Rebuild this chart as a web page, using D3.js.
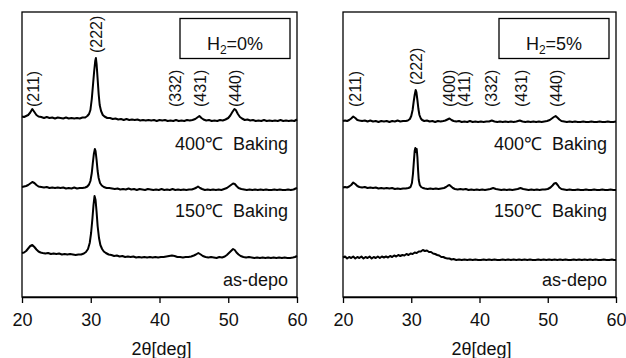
<!DOCTYPE html>
<html>
<head>
<meta charset="utf-8">
<script src="https://cdn.jsdelivr.net/npm/d3@7"></script>
<style>
  html, body { margin: 0; padding: 0; background: #fff; }
  svg { display: block; font-family: "Liberation Sans", Arial, sans-serif; }
  text { white-space: pre; }
</style>
</head>
<body>
<script>
// XRD patterns, intensity in arbitrary units, [2theta, I]
const left400 = [[20.0,4.5],[20.3,4],[20.6,5],[20.9,6],[21.2,8.5],[21.5,12],[21.8,9],[22.1,6],[22.4,4.5],[22.8,4],[23.2,3],[23.6,4],[24.0,3],[24.4,3.5],[24.8,2.5],[25.2,3.5],[25.6,3],[26.0,2.5],[26.4,3.5],[26.8,2.5],[27.2,3],[27.6,2.5],[28.0,3],[28.4,2.5],[28.8,3.5],[29.2,3.5],[29.5,5],[29.75,7],[29.95,11],[30.15,22],[30.35,38],[30.5,50],[30.65,60],[30.75,63],[30.85,57],[31.0,42],[31.15,27],[31.3,16],[31.5,10],[31.75,6],[32.0,4.5],[32.4,3],[32.8,3],[33.2,2],[33.6,2.5],[34.0,1.5],[34.4,2],[34.8,1],[35.2,2],[35.6,1],[36.0,1.5],[36.4,1],[36.8,1.5],[37.2,0.5],[37.6,1],[38.0,0.5],[38.4,1],[38.8,0.5],[39.2,1],[39.6,0],[40.0,1],[40.4,0.5],[40.8,1],[41.2,0],[41.6,0.5],[42.0,0],[42.4,1],[42.8,0],[43.2,0.5],[43.6,0],[44.0,1],[44.4,0.5],[44.8,1],[45.2,2],[45.5,3.5],[45.8,5],[46.1,3],[46.4,1.5],[46.8,0.5],[47.2,1],[47.6,0],[48.0,0.5],[48.4,0],[48.8,1],[49.2,0.5],[49.6,1.5],[50.0,3],[50.3,5.5],[50.6,9],[50.9,12],[51.1,11],[51.4,7],[51.7,4],[52.0,2.5],[52.4,1],[52.8,1.5],[53.2,0.5],[53.6,1],[54.0,0],[54.4,0.5],[54.8,0],[55.2,1],[55.6,0],[56.0,0.5],[56.4,0],[56.8,0.5],[57.2,0],[57.6,1],[58.0,0],[58.4,0.5],[58.8,0],[59.2,0.5],[59.6,0],[60.0,1.5]];
const left150 = [[20.0,3],[20.3,3.5],[20.6,4],[20.9,5],[21.2,6.5],[21.5,8],[21.8,7],[22.1,5],[22.4,3.5],[22.8,3],[23.2,2.5],[23.6,3],[24.0,2],[24.4,2.5],[24.8,2],[25.2,2.5],[25.6,2],[26.0,2.5],[26.4,1.5],[26.8,2],[27.2,1.5],[27.6,2.5],[28.0,1.5],[28.4,2],[28.8,2],[29.2,2.5],[29.5,3.5],[29.75,5.5],[29.95,9],[30.15,17],[30.3,27],[30.45,36],[30.6,41],[30.7,39],[30.85,30],[31.0,19],[31.15,12],[31.35,7],[31.6,4.5],[31.9,3],[32.3,2],[32.7,2],[33.1,1.5],[33.5,1],[33.9,1.5],[34.3,0.5],[34.7,1],[35.1,0.5],[35.5,1.5],[35.9,0.5],[36.3,1],[36.7,0],[37.1,1],[37.5,0.5],[37.9,0],[38.3,1],[38.7,0.5],[39.1,0],[39.5,0.5],[39.9,0],[40.3,1],[40.7,0],[41.1,0.5],[41.5,0],[41.9,1],[42.3,0],[42.7,0.5],[43.1,0],[43.5,0.5],[43.9,0],[44.3,0.5],[44.7,0.5],[45.1,1.5],[45.4,2.5],[45.6,3.5],[45.9,2],[46.2,1],[46.6,0],[47.0,0.5],[47.4,0],[47.8,0.5],[48.2,0],[48.6,0.5],[49.0,0],[49.4,1],[49.8,2],[50.1,3.5],[50.4,5],[50.7,6.5],[50.95,6],[51.2,4],[51.5,2],[51.9,1],[52.3,0.5],[52.7,0],[53.1,0.5],[53.5,0],[53.9,0.5],[54.3,0],[54.7,0.5],[55.1,0],[55.5,0.5],[55.9,0],[56.3,0],[56.7,0.5],[57.1,0],[57.5,0.5],[57.9,0],[58.3,0],[58.7,0.5],[59.1,0],[59.5,0.5],[59.8,1.5],[60.0,2]];
const leftDepo = [[20.0,5],[20.3,5.5],[20.6,7],[20.9,9.5],[21.2,12],[21.5,13],[21.8,11],[22.1,8.5],[22.4,6.5],[22.7,5.5],[23.0,5],[23.4,4.5],[23.8,5],[24.2,4],[24.6,4.5],[25.0,4],[25.4,4.5],[25.8,3.5],[26.2,4],[26.6,3.5],[27.0,4],[27.4,3.5],[27.8,3],[28.2,3.5],[28.6,3.5],[29.0,4.5],[29.3,6],[29.6,9],[29.85,15],[30.05,25],[30.25,40],[30.4,53],[30.55,62],[30.7,58],[30.85,46],[31.0,32],[31.2,20],[31.4,13],[31.65,9],[31.9,6.5],[32.2,5],[32.6,3.5],[33.0,3],[33.4,2],[33.8,2.5],[34.2,1.5],[34.6,2],[35.0,1],[35.4,1.5],[35.8,1],[36.2,1.5],[36.6,0.5],[37.0,1],[37.4,0.5],[37.8,1],[38.2,0.5],[38.6,1],[39.0,0.5],[39.4,1],[39.8,0.5],[40.2,1],[40.6,1],[41.0,1.5],[41.4,2],[41.8,2.5],[42.2,2],[42.6,1],[43.0,1],[43.4,0.5],[43.8,1],[44.2,1],[44.6,1.5],[45.0,2.5],[45.3,3.5],[45.65,5],[46.0,3.5],[46.3,2],[46.7,1],[47.1,0.5],[47.5,1],[47.9,0.5],[48.3,0],[48.7,1],[49.1,0.5],[49.5,1.5],[49.8,3],[50.1,5],[50.4,7],[50.7,9],[50.95,8],[51.2,5.5],[51.5,3.5],[51.8,2],[52.2,1],[52.6,0.5],[53.0,1],[53.4,0.5],[53.8,0],[54.2,0.5],[54.6,0],[55.0,0.5],[55.4,0],[55.8,0.5],[56.2,0],[56.6,0.5],[57.0,0],[57.4,0.5],[57.8,0],[58.2,0.5],[58.6,0],[59.0,0],[59.4,0.5],[59.7,1],[60.0,2]];

const right400 = [[20.0,1],[20.3,1.5],[20.6,1],[20.9,2],[21.2,3.5],[21.5,5.5],[21.8,4],[22.1,2],[22.4,1.5],[22.8,1],[23.2,1.5],[23.6,0.5],[24.0,1.5],[24.4,0.5],[24.8,1],[25.2,0],[25.6,1],[26.0,0.5],[26.4,1],[26.8,0],[27.2,1],[27.6,0.5],[28.0,1.5],[28.4,0.5],[28.8,1],[29.2,1],[29.5,1.5],[29.8,3],[30.0,6],[30.2,12],[30.35,20],[30.5,27],[30.65,32],[30.75,30],[30.9,22],[31.05,13],[31.2,7],[31.4,3.5],[31.6,2],[31.9,1],[32.3,1.5],[32.7,0.5],[33.1,1],[33.5,0],[33.9,1],[34.3,0.5],[34.7,1],[35.0,1.5],[35.3,2.5],[35.6,3.5],[35.9,2],[36.2,1],[36.6,0.5],[37.0,1],[37.4,0],[37.8,0.5],[38.2,0],[38.6,1],[39.0,0],[39.4,0.5],[39.8,0],[40.2,0.5],[40.6,0],[41.0,0.5],[41.4,0.5],[41.8,1.5],[42.2,0.5],[42.6,0],[43.0,0.5],[43.4,0],[43.8,0.5],[44.2,0],[44.6,0.5],[45.0,0],[45.4,0.5],[45.9,1.5],[46.3,0.5],[46.7,0],[47.1,0.5],[47.5,0],[47.9,0.5],[48.3,0],[48.7,0.5],[49.1,0],[49.5,0.5],[49.9,1],[50.3,2],[50.6,3.5],[50.9,5],[51.15,6],[51.4,4.5],[51.7,2.5],[52.0,1],[52.4,0.5],[52.8,0],[53.2,0.5],[53.6,0],[54.0,0.5],[54.4,0],[54.8,0],[55.2,0.5],[55.6,0],[56.0,0],[56.4,0.5],[56.8,0],[57.2,0],[57.6,0.5],[58.0,0],[58.4,0],[58.8,0.5],[59.2,0],[59.6,0],[60.0,0.5]];
const right150 = [[20.0,2.5],[20.3,3],[20.6,2.5],[20.9,3.5],[21.2,5],[21.5,7.5],[21.8,6],[22.1,4],[22.4,3],[22.8,2.5],[23.2,3],[23.6,2],[24.0,2.5],[24.4,2],[24.8,2.5],[25.2,1.5],[25.6,2],[26.0,1.5],[26.4,2],[26.8,1.5],[27.2,2],[27.6,1],[28.0,1.5],[28.4,1],[28.8,1.5],[29.2,1.5],[29.6,2],[29.9,3],[30.1,7],[30.25,16],[30.4,30],[30.5,39],[30.6,42],[30.7,38],[30.8,41],[30.9,33],[31.0,20],[31.1,10],[31.25,5],[31.45,3],[31.7,2],[32.0,1.5],[32.4,1],[32.8,1.5],[33.2,1],[33.6,1.5],[34.0,1],[34.4,1.5],[34.8,2],[35.1,3],[35.4,4.5],[35.6,5],[35.85,3.5],[36.1,2],[36.4,1],[36.8,0.5],[37.2,1],[37.6,0.5],[38.0,1],[38.4,0],[38.8,0.5],[39.2,0],[39.6,0.5],[40.0,0],[40.4,0.5],[40.8,0],[41.2,0.5],[41.6,1],[42.0,2],[42.4,1],[42.8,0.5],[43.2,0],[43.6,0.5],[44.0,0],[44.4,0.5],[44.8,0],[45.2,0.5],[45.6,1],[46.0,2],[46.4,1],[46.8,0.5],[47.2,0],[47.6,0.5],[48.0,0],[48.4,0.5],[48.8,0],[49.2,0.5],[49.6,0.5],[50.0,1],[50.4,2.5],[50.7,4.5],[50.95,6.5],[51.2,7],[51.45,5],[51.7,2.5],[52.0,1],[52.4,0.5],[52.8,0],[53.2,0.5],[53.6,0],[54.0,0],[54.4,0.5],[54.8,0],[55.2,0],[55.6,0.5],[56.0,0],[56.4,0],[56.8,0.5],[57.2,0],[57.6,0],[58.0,0.5],[58.4,0],[58.8,0],[59.2,0.5],[59.6,0],[60.0,0]];
const rightDepo = [[20.0,2.5],[20.3,3.5],[20.6,1.5],[20.9,3],[21.2,2],[21.5,3.5],[21.8,1.5],[22.1,3],[22.4,2],[22.7,3.5],[23.0,1.5],[23.3,3],[23.6,2],[23.9,3.5],[24.2,1.5],[24.5,3],[24.8,2],[25.1,3.5],[25.4,2],[25.7,3.5],[26.0,2.5],[26.3,3.5],[26.6,2.5],[26.9,4],[27.2,3],[27.5,4.5],[27.8,3.5],[28.1,5],[28.4,4],[28.7,5],[29.0,4.5],[29.3,6],[29.6,5],[29.9,6.5],[30.2,6],[30.5,7.5],[30.8,7],[31.1,8.5],[31.4,8.5],[31.7,10],[32.0,9],[32.3,9.5],[32.6,8],[32.9,8],[33.2,6.5],[33.5,6],[33.8,5],[34.1,4.5],[34.4,3],[34.7,3],[35.0,2],[35.3,1.5],[35.6,1.5],[35.9,0.5],[36.2,1],[36.6,0],[37.0,0.5],[37.4,0],[37.8,0.5],[38.2,0],[38.6,0.5],[39.0,0],[39.4,0.5],[39.8,0],[40.2,0],[40.6,0.5],[41.0,0],[41.4,0.5],[41.8,0],[42.2,0.5],[42.6,0],[43.0,0],[43.4,0.5],[43.8,0],[44.2,0.5],[44.6,0],[45.0,0.5],[45.4,0],[45.8,0.5],[46.2,0],[46.6,0.5],[47.0,0],[47.4,0.5],[47.8,0],[48.2,0],[48.6,0.5],[49.0,0],[49.4,0.5],[49.8,0],[50.2,0.5],[50.6,0],[51.0,0.5],[51.4,0],[51.8,0.5],[52.2,0],[52.6,0.5],[53.0,0],[53.4,0],[53.8,0.5],[54.2,0],[54.6,0.5],[55.0,0],[55.4,0.5],[55.8,0],[56.2,0.5],[56.6,0],[57.0,0.5],[57.4,0],[57.8,0],[58.2,0.5],[58.6,0],[59.0,0],[59.4,0.5],[59.7,0],[60.0,0]];

// stacking offsets (same units)
const sampleNames = ["400℃  Baking", "150℃  Baking", "as-depo"];
const leftOffsets = [176, 107, 39];
const rightOffsets = [175, 107, 37];

const leftPeaks = [["(211)", 21.6], ["(222)", 30.85], ["(332)", 42.25], ["(431)", 45.9], ["(440)", 51.0]];
const rightPeaks = [["(211)", 21.8], ["(222)", 30.8], ["(400)", 35.6], ["(411)", 37.8], ["(332)", 41.75], ["(431)", 46.1], ["(440)", 51.2]];

const xTicks = [20, 30, 40, 50, 60];
const panelTitles = ["0%", "5%"];

const W = 626, H = 358;
const yTop = 12, yBot = 297;

const svg = d3.select("body").append("svg")
    .attr("width", W)
    .attr("height", H);

const y = d3.scaleLinear().domain([0, 285]).range([yBot, yTop]);

const panels = [
  {x0: 22, x1: 297, series: [left400, left150, leftDepo], offsets: leftOffsets, peaks: leftPeaks, title: panelTitles[0]},
  {x0: 343, x1: 616, series: [right400, right150, rightDepo], offsets: rightOffsets, peaks: rightPeaks, title: panelTitles[1]}
];

panels.forEach(p => {
  const x = d3.scaleLinear().domain([20, 60]).range([p.x0, p.x1]);
  const g = svg.append("g");

  // frame
  g.append("rect")
      .attr("x", p.x0).attr("y", yTop)
      .attr("width", p.x1 - p.x0).attr("height", yBot - yTop)
      .attr("fill", "none").attr("stroke", "#000").attr("stroke-width", 1.3);

  // x axis
  const ax = g.append("g")
      .attr("transform", `translate(0,${yBot})`)
      .call(d3.axisBottom(x).tickValues(xTicks).tickSize(6).tickSizeOuter(0));
  ax.select(".domain").attr("stroke-width", 1.3);
  ax.selectAll(".tick line").attr("stroke-width", 1.3);
  ax.selectAll(".tick text")
      .attr("y", 29).attr("dy", null)
      .attr("font-size", 18).attr("font-family", "Liberation Sans, Arial, sans-serif")
      .attr("fill", "#111");

  g.append("text")
      .attr("x", (p.x0 + p.x1) / 2 + 2).attr("y", 355)
      .attr("text-anchor", "middle").attr("font-size", 18).attr("fill", "#111")
      .text("2θ[deg]");

  // traces
  const line = d3.line();
  p.series.forEach((s, i) => {
    g.append("path")
        .attr("d", line(s.map(d => [x(d[0]), y(d[1] + p.offsets[i])])))
        .attr("fill", "none").attr("stroke", "#000")
        .attr("stroke-width", 2).attr("stroke-linejoin", "round");
  });

  // sample labels
  const labelY = [150, 217, 286];
  sampleNames.forEach((n, i) => {
    g.append("text")
        .attr("x", p.x1 - 9).attr("y", labelY[i])
        .attr("text-anchor", "end").attr("font-size", 18).attr("fill", "#111")
        .text(n);
  });

  // peak index labels (rotated) above the top trace
  const topSeries = p.series[0];
  p.peaks.forEach(([lab, tt]) => {
    const near = topSeries.filter(d => Math.abs(d[0] - tt) < 0.4);
    const peakTop = y(d3.max(near, d => d[1]) + p.offsets[0]);
    const ly = peakTop < 100 ? peakTop - 5 : 107;
    g.append("text")
        .attr("transform", `translate(${x(tt)},${ly}) rotate(-90)`)
        .attr("dy", "0.35em")
        .attr("font-size", 16).attr("fill", "#111")
        .text(lab);
  });

  // H2 box
  const bx = p.x1 - 117, bw = 110;
  g.append("rect")
      .attr("x", bx).attr("y", 18.5).attr("width", bw).attr("height", 40)
      .attr("fill", "#fff").attr("stroke", "#000").attr("stroke-width", 1.3);
  const t = g.append("text")
      .attr("x", bx + bw / 2).attr("y", 50)
      .attr("text-anchor", "middle").attr("font-size", 18).attr("fill", "#111");
  t.append("tspan").text("H");
  t.append("tspan").attr("font-size", 12).attr("dy", 4).text("2");
  t.append("tspan").attr("dy", -4).text("=" + p.title);
});
</script>
</body>
</html>
